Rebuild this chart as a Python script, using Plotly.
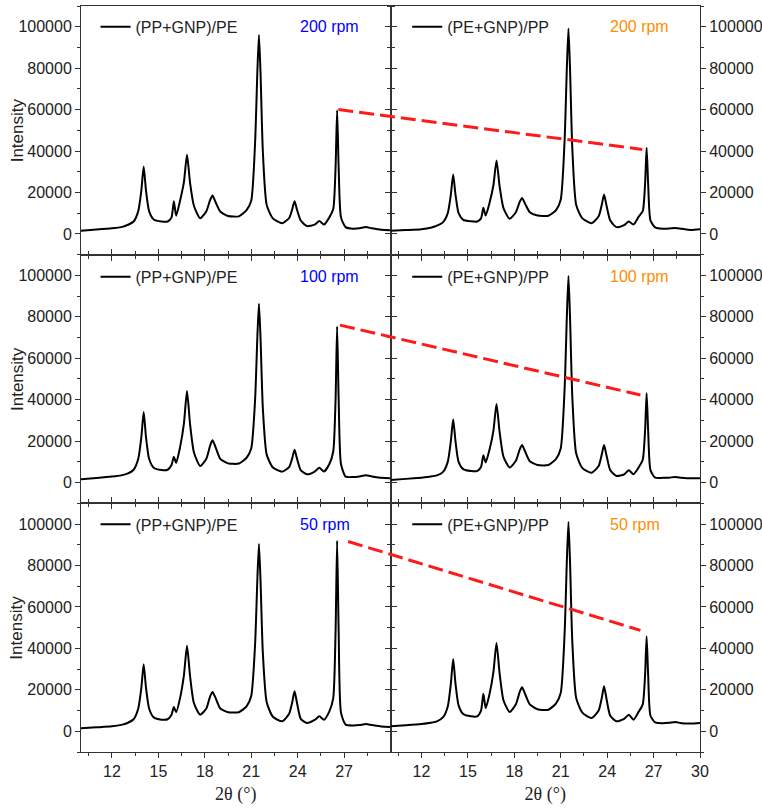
import plotly.graph_objects as go

# ---------------- data ----------------
two_theta = [10.0, 11.0, 12.0, 12.6, 13.0, 13.4, 13.7, 13.9, 14.05, 14.2, 14.4, 14.7,
             15.2, 15.6, 15.85, 16.0, 16.15, 16.4, 16.65, 16.85, 17.05, 17.3, 17.7,
             18.1, 18.35, 18.5, 18.7, 19.0, 19.5, 20.2, 20.7, 21.0, 21.25, 21.4, 21.5,
             21.6, 21.75, 22.0, 22.4, 23.0, 23.45, 23.65, 23.8, 23.95, 24.2, 24.6, 25.1,
             25.4, 25.7, 26.05, 26.3, 26.45, 26.55, 26.65, 26.8, 27.1, 27.6, 28.0, 28.4,
             28.8, 29.4, 30.0]

pp_gnp_pe_200 = [1600, 2100, 2700, 3300, 4300, 6000, 11000, 21000, 32500, 21000, 11000, 7000,
                 6000, 6000, 8000, 15800, 8800, 16000, 25000, 38200, 24500, 13500, 7600,
                 11000, 16500, 18500, 15300, 10800, 8700, 8500, 11500, 16000, 44000, 79000, 96000,
                 78000, 40000, 14000, 7500, 5200, 7700, 11900, 15800, 11900, 6500, 3800, 4500,
                 6200, 4500, 8000, 12000, 32000, 59700, 32000, 8000, 3300, 2500, 2700, 3300,
                 2700, 2000, 1800]

pe_gnp_pp_200 = [1600, 1900, 2300, 3000, 4000, 5700, 10000, 19000, 28700, 19000, 10000, 6800,
                 6100, 6000, 7500, 12600, 8900, 15000, 23500, 35500, 23000, 12500, 7300,
                 10500, 15500, 17400, 14500, 10500, 8900, 8800, 11500, 16500, 45000, 81000, 99200,
                 80000, 41000, 14000, 7500, 5200, 8500, 14000, 19000, 14000, 6500, 3300, 4300,
                 6000, 4500, 8500, 11000, 24000, 41600, 24000, 6500, 3200, 2500, 2600, 2900,
                 2500, 1900, 2300]

pp_gnp_pe_100 = [1600, 2200, 2900, 3500, 4300, 6200, 11500, 22000, 34100, 22000, 11500, 7200,
                 6100, 6200, 8500, 12500, 9600, 17000, 28500, 44200, 28000, 14500, 8000,
                 11500, 18000, 20400, 17000, 11500, 9300, 9200, 12000, 16500, 40000, 71000, 86300,
                 70000, 36000, 13500, 7300, 5300, 7500, 11800, 15800, 11800, 6000, 4000, 5300,
                 7200, 5300, 9000, 15000, 40000, 75300, 40000, 9000, 2900, 2700, 3000, 3500,
                 3000, 2300, 2100]

pe_gnp_pp_100 = [1300, 1800, 2400, 2900, 3500, 5200, 10000, 20000, 30600, 20000, 10000, 6500,
                 5600, 5600, 7500, 13200, 9700, 16000, 25000, 37900, 24500, 12500, 7300,
                 10500, 16000, 18100, 15000, 10300, 8500, 8500, 11500, 16500, 45000, 81000, 99700,
                 80000, 41000, 14000, 7000, 4800, 8000, 13500, 18100, 13500, 6000, 3200, 4000,
                 6000, 4000, 7500, 11000, 25000, 43100, 25000, 6000, 2400, 2300, 2400, 2700,
                 2400, 2100, 2100]

pp_gnp_pe_50 = [1450, 1900, 2400, 3100, 4000, 5800, 11000, 21000, 32400, 21000, 11000, 6700,
                5600, 5800, 8000, 11700, 9200, 16000, 27000, 41300, 26500, 13500, 8000,
                11000, 17000, 19000, 16000, 11000, 9200, 9200, 12000, 17000, 42000, 74000, 90400,
                73000, 38000, 14000, 7000, 4800, 8500, 14000, 19300, 14000, 6000, 4000, 5500,
                7200, 5600, 9600, 16000, 48000, 91900, 48000, 9000, 3200, 2800, 3000, 3500,
                3000, 2300, 2100]

pe_gnp_pp_50 = [2400, 2900, 3500, 4100, 4800, 6800, 12000, 23000, 34900, 23000, 12500, 8300,
                7200, 7200, 10000, 18100, 11200, 18000, 28500, 42600, 28000, 15000, 9300,
                13000, 19000, 21200, 18000, 13000, 10600, 10400, 13500, 18500, 47000, 83000, 101000,
                82000, 43000, 16000, 9000, 6400, 10000, 16000, 21700, 16000, 7500, 4800, 6000,
                8000, 5600, 9600, 13000, 27000, 45800, 27000, 7500, 4300, 3900, 4100, 4500,
                3900, 3700, 4000]

# red dashed trend lines: (left panel point) -> (right panel point)
trend_x_left = [26.63, 26.74, 27.26]
trend_y_left = [60000, 76000, 91600]
trend_x_right = [26.27, 26.15, 26.15]
trend_y_right = [40800, 42300, 48700]

series_left_name = "(PP+GNP)/PE"
series_right_name = "(PE+GNP)/PP"
speeds = ["200 rpm", "100 rpm", "50 rpm"]
left_series = [pp_gnp_pe_200, pp_gnp_pe_100, pp_gnp_pe_50]
right_series = [pe_gnp_pp_200, pe_gnp_pp_100, pe_gnp_pp_50]

x_ticks_left = [12, 15, 18, 21, 24, 27]
x_ticks_right = [12, 15, 18, 21, 24, 27, 30]
x_minor = [10.5, 13.5, 16.5, 19.5, 22.5, 25.5, 28.5]
y_ticks = [0, 20000, 40000, 60000, 80000, 100000]
y_minor = [-10000, 10000, 30000, 50000, 70000, 90000, 110000]

# ---------------- figure ----------------
FONT = "Liberation Sans, Arial, sans-serif"
AX = "#333333"
TXT = "#222222"
X_RANGE = [10, 30]
Y_RANGE = [-10000, 110000]
FS = 16

fig = go.Figure()
layout = dict(
    width=762, height=808,
    margin=dict(l=81, r=62, t=6, b=56),
    paper_bgcolor="white", plot_bgcolor="rgba(0,0,0,0)",
    font=dict(family=FONT, size=FS, color=TXT),
    showlegend=True,
)

row_domains = [[2/3, 1.0], [1/3, 2/3], [0.0, 1/3]]
col_domains = [[0.0, 0.5], [0.5, 1.0]]
legend_y = [0.972, 0.637, 0.305]

ann = []
for r in range(3):
    for c in range(2):
        idx = r * 2 + c + 1
        xa = "xaxis" if idx == 1 else f"xaxis{idx}"
        ya = "yaxis" if idx == 1 else f"yaxis{idx}"
        xid = "x" if idx == 1 else f"x{idx}"
        yid = "y" if idx == 1 else f"y{idx}"
        bottom = (r == 2)
        layout[xa] = dict(
            domain=col_domains[c], anchor=yid, range=X_RANGE, automargin=False,
            tickmode="array", tickvals=(x_ticks_right if c == 1 else x_ticks_left),
            showticklabels=bottom, ticks="outside", ticklen=5, tickwidth=1, tickcolor=AX,
            minor=dict(tickmode="array", tickvals=x_minor, ticks="outside", ticklen=3,
                       tickwidth=1, tickcolor=AX),
            showline=True, linecolor=AX, linewidth=1,
            mirror=(True if r == 0 else "ticks"),
            showgrid=False, zeroline=False,
            tickfont=dict(family=FONT, size=FS, color=TXT),
        )
        if bottom:
            layout[xa]["title"] = dict(text="2θ (°)", standoff=8,
                                       font=dict(family="Liberation Serif, Times New Roman, serif",
                                                 size=18, color=TXT))
        layout[ya] = dict(
            domain=row_domains[r], anchor=xid, range=Y_RANGE, automargin=False,
            side=("right" if c == 1 else "left"),
            tickmode="array", tickvals=y_ticks, tickformat="d",
            ticks="outside", ticklen=5, tickwidth=1, tickcolor=AX,
            minor=dict(tickmode="array", tickvals=y_minor, ticks="outside", ticklen=3,
                       tickwidth=1, tickcolor=AX),
            showline=True, linecolor=AX, linewidth=1, mirror="ticks",
            showgrid=False, zeroline=False,
            tickfont=dict(family=FONT, size=FS, color=TXT),
        )
        if c == 0:
            ann.append(dict(
                text="Intensity", xref="paper", yref="paper",
                x=-0.1034, y=sum(row_domains[r]) / 2, xanchor="center", yanchor="middle",
                textangle=-90, showarrow=False,
                font=dict(family=FONT, size=17, color=TXT),
            ))

        data = right_series[r] if c == 1 else left_series[r]
        name = series_right_name if c == 1 else series_left_name
        leg = "legend" if idx == 1 else f"legend{idx}"
        fig.add_trace(go.Scatter(
            x=two_theta, y=data, mode="lines", name=name,
            line=dict(color="black", width=2, shape="spline", smoothing=0.6),
            xaxis=xid, yaxis=yid, legend=leg, hoverinfo="skip",
        ))
        layout[leg] = dict(
            x=(0.0235 if c == 0 else 0.527), y=legend_y[r], xanchor="left", yanchor="middle",
            bgcolor="rgba(0,0,0,0)", borderwidth=0,
            font=dict(family=FONT, size=FS, color=TXT),
        )
        ann.append(dict(
            text=speeds[r], xref="paper", yref="paper",
            x=(0.3506 if c == 0 else 0.8514), y=legend_y[r], xanchor="left", yanchor="middle",
            showarrow=False,
            font=dict(family=FONT, size=FS, color=("#0000ff" if c == 0 else "#ff8c00")),
        ))

# full-width overlay axis so the trend line can span both columns (right column = +20)
layout["xaxis7"] = dict(domain=[0, 1], range=[10, 50], visible=False, anchor="free", position=0)
for r in range(3):
    yid = ["y", "y3", "y5"][r]
    fig.add_trace(go.Scatter(
        x=[trend_x_left[r], trend_x_right[r] + 20],
        y=[trend_y_left[r], trend_y_right[r]],
        mode="lines", line=dict(color="#ff1a1a", width=3, dash="15px,6px"),
        xaxis="x7", yaxis=yid, showlegend=False, hoverinfo="skip",
    ))

layout["annotations"] = ann
fig.update_layout(**layout)
fig.write_html("out.html", config={"displayModeBar": False},
               post_script="document.body.style.margin='0px';")
